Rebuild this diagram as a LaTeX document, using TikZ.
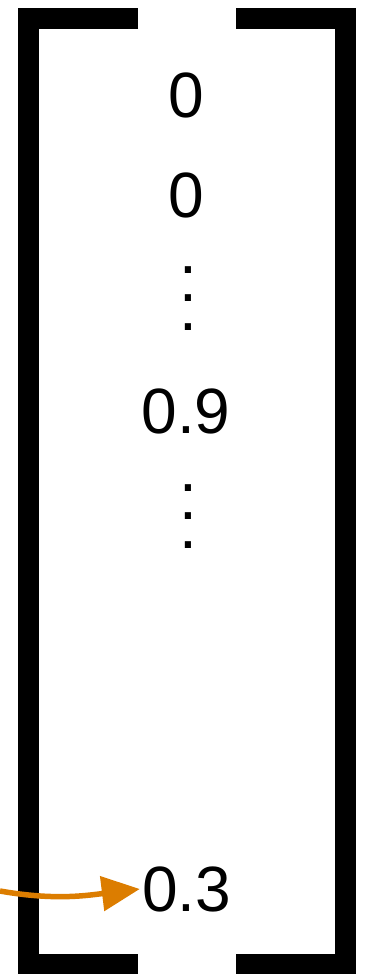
\documentclass[tikz,border=0pt]{standalone}
\usepackage{fontspec}
\setmainfont{Liberation Sans}
\usepackage{tikz}
\usetikzlibrary{arrows.meta}
\definecolor{maccent}{RGB}{220, 125, 0}

\begin{document}
\begin{tikzpicture}[x=1pt, y=1pt, every node/.style={font=\fontsize{64}{64}\selectfont, inner sep=2pt, anchor=base}]
\useasboundingbox (0,0) rectangle (372,-974);
% Colchetes do vetor
\draw[line width=21pt] (138,-18.5) -- (28,-18.5) -- (28,-964.5) -- (138,-964.5);
\draw[line width=21pt] (236,-18.5) -- (345.5,-18.5) -- (345.5,-964.5) -- (236,-964.5);
% Entradas do vetor
\node (v1) at (186.5,-117) {0};
\node (v2) at (186.5,-217) {0};
\node (v3) at (186,-433) {0.9};
\node (v4) at (186.5,-911) {0.3};
% Reticências verticais
\foreach \y [count=\i] in {273,301.5,330,491,519.5,548}
  \node[inner sep=0pt, text height=7pt, text depth=0pt] (d\i) at (188,-\y) {.};
% Seta destacada
\coordinate (src) at (0,-891);
\draw[line width=5.5pt, color=maccent, -{Triangle[length=38pt, width=34pt]}] (src) to[out=-10, in=187] (v4.west);
\end{tikzpicture}
\end{document}
